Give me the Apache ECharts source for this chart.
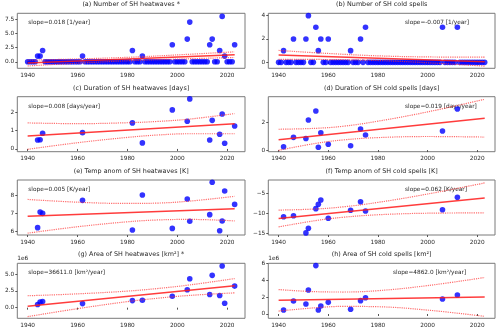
<!DOCTYPE html>
<html>
<head>
<meta charset="utf-8">
<script src="https://cdn.jsdelivr.net/npm/echarts@6/dist/echarts.min.js"></script>
<style>
  html, body { margin: 0; padding: 0; background: #fff; }
  #chart { width: 500px; height: 332px; }
</style>
</head>
<body>
<div id="chart"></div>
<script>
// yearly counts 1940..2023
var countYears = [];
for (var yr = 1940; yr <= 2023; yr++) countYears.push(yr);

var heatCount = [
    0, 0, 0, 0, 1, 1, 2, 0, 0, 0,
    0, 0, 0, 0, 0, 0, 0, 0, 0, 0,
    0, 0, 1, 0, 0, 0, 0, 0, 0, 0,
    0, 0, 0, 0, 0, 0, 0, 0, 0, 0,
    0, 0, 2, 0, 0, 0, 1, 0, 0, 0,
    0, 0, 0, 0, 0, 0, 0, 0, 3, 0,
    0, 0, 0, 0, 4, 7, 0, 0, 0, 0,
    0, 0, 0, 3, 4, 0, 0, 2, 8, 1,
    0, 0, 0, 3
];
var coldCount = [
    0, 0, 1, 0, 0, 0, 2, 0, 0, 0,
    0, 2, 4, 0, 0, 3, 1, 2, 0, 0,
    2, 0, 0, 0, 0, 0, 0, 0, 0, 1,
    0, 0, 0, 2, 0, 3, 0, 0, 0, 0,
    0, 0, 0, 0, 0, 0, 0, 0, 0, 0,
    0, 0, 0, 0, 0, 0, 0, 0, 0, 0,
    0, 0, 0, 0, 0, 0, 3, 0, 0, 0,
    0, 0, 3, 0, 0, 0, 0, 0, 0, 0,
    0, 0, 0, 0
];

// event years
var heatYears = [1944, 1945, 1946, 1962, 1982, 1986, 1998, 2004, 2005, 2013, 2014, 2017, 2018, 2019, 2023];
var heatDuration = [0.49, 0.5, 0.86, 0.89, 1.42, 0.33, 2.13, 1.51, 2.73, 0.49, 1.56, 0.8, 1.91, 0.31, 1.25];
var heatTemp = [6.22, 7.07, 7.0, 7.71, 6.09, 8.0, 6.18, 7.78, 6.57, 6.93, 8.7, 6.05, 6.58, 8.22, 7.49];
var heatArea = [0.47, 0.85, 0.9, 0.6, 1.05, 1.1, 1.7, 2.65, 4.3, 1.95, 4.8, 1.8, 6.2, 0.65, 3.2]; // x1e6

var coldYears = [1942, 1946, 1951, 1952, 1955, 1956, 1957, 1960, 1969, 1973, 1975, 2006, 2012];
var coldDuration = [0.24, 0.93, 0.85, 2.2, 2.85, 0.2, 1.27, 0.42, 0.32, 1.54, 1.1, 1.39, 3.0];
var coldTemp = [-10.85, -10.6, -14.9, -13.75, -8.84, -7.75, -6.67, -11.25, -9.25, -7.1, -9.42, -9.1, -6.0];
var coldArea = [0.47, 1.54, 1.18, 2.84, 5.73, 0.47, 0.95, 1.38, 0.56, 1.58, 1.93, 1.78, 2.25]; // x1e6

// trend line ends (1940, 2023)
var trendEnds = {
    a: [-0.235, 1.259], b: [0.636, 0.056],
    c: [0.70, 1.38], d: [0.75, 2.327],
    e: [6.84, 7.255], f: [-11.3, -6.15],
    g: [0.22, 3.26], h: [1.62, 2.02]
};

// confidence bands
var bandYearsA = [1940, 1960, 1981, 2002, 2023];
var bandYearsHeat = [1940, 1960, 1980, 1992, 2005, 2023];
var bandYearsCold = [1940, 1955, 1966, 1980, 2000, 2023];
var bandUpper = {
    a: [0.27, 0.5, 0.8, 1.26, 1.76],
    b: [1.02, 0.76, 0.55, 0.46, 0.44],
    c: [1.42, 1.38, 1.43, 1.5, 1.63, 1.93],
    d: [1.52, 1.59, 1.74, 2.11, 2.79, 3.71],
    e: [7.76, 7.61, 7.54, 7.56, 7.67, 7.93],
    f: [-9.2, -8.92, -8.39, -7.27, -5.18, -2.4],
    g: [1.77, 2.05, 2.46, 2.84, 3.38, 4.32],
    h: [2.89, 2.64, 2.6, 2.76, 3.36, 4.32]
};
var bandLower = {
    a: [-0.73, -0.25, 0.2, 0.5, 0.76],
    b: [0.26, 0.24, 0.15, -0.06, -0.32],
    c: [-0.02, 0.34, 0.63, 0.76, 0.83, 0.83],
    d: [-0.02, 0.49, 0.74, 0.91, 0.99, 0.95],
    e: [5.92, 6.27, 6.54, 6.64, 6.67, 6.59],
    f: [-13.4, -11.82, -10.99, -10.37, -9.98, -9.9],
    g: [-1.33, -0.15, 0.9, 1.4, 1.82, 2.2],
    h: [0.35, 0.74, 0.9, 0.86, 0.46, -0.28]
};

var xTicks = [1940, 1960, 1980, 2000, 2020];
var yTicks = {
    a: [0, 2.5, 5, 7.5], b: [0, 2, 4], c: [0, 1, 2], d: [0, 2],
    e: [6, 7, 8], f: [-15, -10, -5], g: [0, 2.5, 5], h: [0, 2, 4, 6]
};
var yRange = {
    a: [-1.15, 8.55], b: [-0.51, 4.2], c: [-0.15, 2.85], d: [-0.12, 3.9],
    e: [5.82, 8.82], f: [-15.43, -1.67], g: [-1.58, 6.59], h: [-0.51, 6.0]
};

var titles = {
    a: "(a) Number of SH heatwaves *",
    b: "(b) Number of SH cold spells",
    c: "(c) Duration of SH heatwaves [days]",
    d: "(d) Duration of SH cold spells [days]",
    e: "(e) Temp anom of SH heatwaves [K]",
    f: "(f) Temp anom of SH cold spells [K]",
    g: "(g) Area of SH heatwaves [km\u00b2] *",
    h: "(h) Area of SH cold spells [km\u00b2]"
};
var slopeText = {
    a: "slope=0.018 [1/year]",
    b: "slope=-0.007 [1/year]",
    c: "slope=0.008 [days/year]",
    d: "slope=0.019 [days/year]",
    e: "slope=0.005 [K/year]",
    f: "slope=0.062 [K/year]",
    g: "slope=36611.0 [km\u00b2/year]",
    h: "slope=4862.0 [km\u00b2/year]"
};

var panels = [
    { key: "a", xs: countYears, ys: heatCount, band: bandYearsA, dec: 1 },
    { key: "b", xs: countYears, ys: coldCount, band: bandYearsA, dec: 0 },
    { key: "c", xs: heatYears, ys: heatDuration, band: bandYearsHeat, dec: 0 },
    { key: "d", xs: coldYears, ys: coldDuration, band: bandYearsCold, dec: 0 },
    { key: "e", xs: heatYears, ys: heatTemp, band: bandYearsHeat, dec: 0 },
    { key: "f", xs: coldYears, ys: coldTemp, band: bandYearsCold, dec: 0 },
    { key: "g", xs: heatYears, ys: heatArea, band: bandYearsHeat, dec: 1 },
    { key: "h", xs: coldYears, ys: coldArea, band: bandYearsCold, dec: 0 }
];

var colLeft = [17.3, 268.3];
var colWidth = [227.7, 226.7];
var rowTop = [13.3, 96.7, 180, 263.3];
var boxH = 55;
var slopeX = { b: 405, d: 405, f: 405, h: 393 };

var FONT = "DejaVu Sans";
var TXT = "#262626";

var grids = [], xAxes = [], yAxes = [], series = [], graphics = [];

function zip(xs, ys) {
    return xs.map(function (x, i) { return [x, ys[i]]; });
}

panels.forEach(function (p, i) {
    var col = i % 2, row = Math.floor(i / 2);
    var left = colLeft[col], top = rowTop[row];
    grids.push({
        left: left, top: top, width: colWidth[col], height: boxH,
        show: true, borderColor: "#7a7a7a", borderWidth: 1, backgroundColor: "transparent"
    });
    xAxes.push({
        type: "value", gridIndex: i, min: 1935.85, max: 2027.15,
        axisLine: { show: false },
        axisTick: { show: true, length: 2, customValues: xTicks, lineStyle: { color: "#555" } },
        axisLabel: {
            customValues: xTicks, margin: 4, fontSize: 5.8, fontFamily: FONT, color: TXT,
            formatter: function (v) { return String(v); }
        },
        splitLine: { show: false }
    });
    var dec = p.dec;
    yAxes.push({
        type: "value", gridIndex: i, min: yRange[p.key][0], max: yRange[p.key][1],
        axisLine: { show: false },
        axisTick: { show: true, length: 2, customValues: yTicks[p.key], lineStyle: { color: "#555" } },
        axisLabel: {
            customValues: yTicks[p.key], margin: 3, fontSize: 5.8, fontFamily: FONT, color: TXT,
            formatter: function (v) { return v.toFixed(dec).replace("-", "\u2212"); }
        },
        splitLine: { show: false }
    });
    series.push({
        type: "scatter", xAxisIndex: i, yAxisIndex: i, data: zip(p.xs, p.ys),
        symbolSize: 5.6, itemStyle: { color: "#0000ff" }, z: 2, silent: true
    });
    series.push({
        type: "line", xAxisIndex: i, yAxisIndex: i,
        data: [[1940, trendEnds[p.key][0]], [2023, trendEnds[p.key][1]]],
        symbol: "none", lineStyle: { color: "#ff1a1a", width: 1.5, opacity: 0.85 }, z: 3, silent: true
    });
    series.push({
        type: "line", xAxisIndex: i, yAxisIndex: i, data: zip(p.band, bandUpper[p.key]),
        smooth: 0.4, symbol: "none", lineStyle: { color: "#ff3030", width: 1.2, type: [1.2, 1], opacity: 0.7 }, z: 3, silent: true
    });
    series.push({
        type: "line", xAxisIndex: i, yAxisIndex: i, data: zip(p.band, bandLower[p.key]),
        smooth: 0.4, symbol: "none", lineStyle: { color: "#ff3030", width: 1.2, type: [1.2, 1], opacity: 0.7 }, z: 3, silent: true
    });

    graphics.push({
        type: "text", x: left + colWidth[col] / 2, y: top - 8.5,
        style: { text: titles[p.key], fill: TXT, fontSize: 6.4, fontFamily: FONT,
                 textAlign: "center", textVerticalAlign: "middle", align: "center", verticalAlign: "middle" }
    });
    graphics.push({
        type: "text", x: col === 0 ? left + 11 : slopeX[p.key], y: top + 9.3,
        style: { text: slopeText[p.key], fill: TXT, fontSize: 5.8, fontFamily: FONT,
                 textAlign: "left", textVerticalAlign: "middle", align: "left", verticalAlign: "middle" }
    });
    if (p.key === "g" || p.key === "h") {
        graphics.push({
            type: "text", x: left, y: top - 5,
            style: { text: "1e6", fill: TXT, fontSize: 5.8, fontFamily: FONT,
                     textAlign: "left", textVerticalAlign: "middle", align: "left", verticalAlign: "middle" }
        });
    }
});

var chart = echarts.init(document.getElementById("chart"), null, { renderer: "canvas" });
chart.setOption({
    animation: false,
    grid: grids,
    xAxis: xAxes,
    yAxis: yAxes,
    series: series,
    graphic: graphics
});
</script>
</body>
</html>
